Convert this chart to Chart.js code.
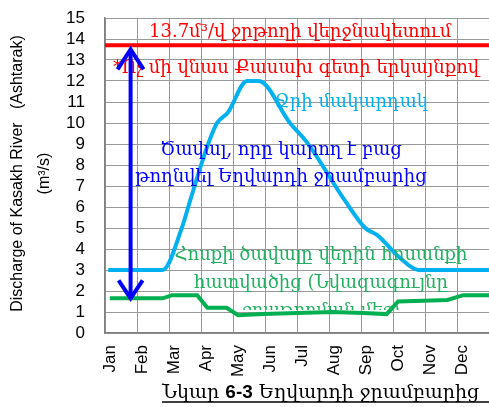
<!DOCTYPE html>
<html>
<head>
<meta charset="utf-8">
<script src="https://cdn.jsdelivr.net/npm/chart.js@4/dist/chart.umd.min.js"></script>
<style>
  html, body { margin: 0; padding: 0; background: #fff; }
  canvas { display: block; }
</style>
</head>
<body>
<canvas id="myChart" width="489" height="407"></canvas>
<script>
const months = ['Jan', 'Feb', 'Mar', 'Apr', 'May', 'Jun', 'Jul', 'Aug', 'Sep', 'Oct', 'Nov', 'Dec'];

// water level curve (x in months from Jan)
const levelX = [0.1, 1.8, 2.4, 2.66, 3.2, 3.5, 3.84, 4.44, 4.8, 5.78, 6.3, 7.5, 8.13, 8.5, 9.22, 9.8, 12];
const levelY = [3, 3, 5, 6.3, 8.9, 10, 10.5, 12, 12, 10, 9.1, 6.3, 5, 4.67, 3.57, 3, 3];

// upstream flow (minimum release)
const flowX = [0.15, 1.8, 2.1, 2.88, 3.2, 3.8, 4.16, 4.94, 7.1, 8.06, 8.8, 9.16, 10.7, 11.2, 12];
const flowY = [1.65, 1.65, 1.8, 1.8, 1.2, 1.2, 0.85, 0.9, 1.0, 0.95, 0.9, 1.5, 1.57, 1.8, 1.8];

const limitValue = 13.7;
const arrowX = 0.8;
const arrowFrom = 1.55;
const arrowTo = 13.7;

const armFont = '"DejaVu Serif", "DejaVu Sans", serif';

const toPoints = (xs, ys) => xs.map((x, i) => ({ x: x, y: ys[i] }));

// w = width the line takes in the picture, the font is shrunk to it
const notes = [
  { text: '13.7մ³/վ ջրթողի վերջնակետում', x: 6.1, y: 14.3, color: '#ff0000', size: 20, w: 303, align: 'center' },
  { text: '*Ոչ մի վնաս Քասախ գետի երկայնքով', x: 0.25, y: 12.6, color: '#ff0000', size: 20, w: 371, align: 'left' },
  { text: 'Ջրի մակարդակ', x: 7.7, y: 11.0, color: '#00b0f0', size: 20, w: 155, align: 'center' },
  { text: 'Ծավալ, որը կարող է բաց', x: 5.5, y: 8.7, color: '#0000ff', size: 21, w: 247, align: 'center' },
  { text: 'թողնվել Եղվարդի ջրամբարից', x: 5.5, y: 7.4, color: '#0000ff', size: 21, w: 295, align: 'center' },
  { text: 'Հոսքի ծավալը վերին հոսանքի', x: 6.75, y: 3.7, color: '#22b060', size: 20, w: 298, align: 'center' },
  { text: 'հատվածից (Նվազագույնը', x: 6.75, y: 2.38, color: '#22b060', size: 20, w: 257, align: 'center' },
  { text: 'ջրաթողման մեջ)', x: 6.75, y: 1.05, color: '#22b060', size: 20, w: 160, align: 'center', clipY: 310 }
];

const extras = {
  id: 'extras',
  afterDatasetsDraw(chart) {
    const ctx = chart.ctx;
    const xs = chart.scales.x, ys = chart.scales.y;
    ctx.save();
    ctx.textBaseline = 'middle';
    notes.forEach(n => {
      ctx.save();
      if (n.clipY) {
        ctx.beginPath();
        ctx.rect(0, 0, chart.width, n.clipY);
        ctx.clip();
      }
      let size = n.size;
      ctx.font = size + 'px ' + armFont;
      while (ctx.measureText(n.text).width > n.w && size > 8) {
        size -= 0.5;
        ctx.font = size + 'px ' + armFont;
      }
      ctx.fillStyle = n.color;
      ctx.textAlign = n.align;
      ctx.fillText(n.text, xs.getPixelForValue(n.x), ys.getPixelForValue(n.y));
      ctx.restore();
    });

    // double arrow
    const ax = xs.getPixelForValue(arrowX);
    const top = ys.getPixelForValue(arrowTo) + 2;
    const bot = ys.getPixelForValue(arrowFrom);
    ctx.strokeStyle = '#0000ff';
    ctx.lineWidth = 4;
    ctx.lineCap = 'butt';
    ctx.lineJoin = 'miter';
    ctx.beginPath();
    ctx.moveTo(ax, top + 2);
    ctx.lineTo(ax, bot - 2);
    ctx.stroke();
    ctx.beginPath();
    ctx.moveTo(ax - 13, top + 22);
    ctx.lineTo(ax, top + 2);
    ctx.lineTo(ax + 13, top + 22);
    ctx.stroke();
    ctx.beginPath();
    ctx.moveTo(ax - 12, bot - 20);
    ctx.lineTo(ax, bot - 2);
    ctx.lineTo(ax + 12, bot - 20);
    ctx.stroke();
    ctx.restore();
  },
  afterDraw(chart) {
    const ctx = chart.ctx;
    const area = chart.chartArea;
    ctx.save();
    // y axis title
    ctx.fillStyle = '#000';
    ctx.font = '16px "Liberation Sans Narrow", "Liberation Sans", Arial, sans-serif';
    ctx.textAlign = 'center';
    ctx.textBaseline = 'middle';
    const cy = (area.top + area.bottom) / 2;
    ctx.translate(18, cy - 2);
    ctx.rotate(-Math.PI / 2);
    ctx.fillText('Discharge of Kasakh River   (Ashtarak)', 0, 0);
    ctx.fillText('(m³/s)', 0, 27);
    ctx.restore();

    // caption
    ctx.save();
    ctx.fillStyle = '#000';
    ctx.textBaseline = 'alphabetic';
    ctx.textAlign = 'left';
    let x = 162;
    const base = 398;
    const parts = [
      ['Նկար ', '19px ' + armFont],
      ['6-3', 'bold 19px "Liberation Sans", Arial, sans-serif'],
      [' Եղվարդի ջրամբարից', '19px ' + armFont]
    ];
    parts.forEach(p => {
      ctx.font = p[1];
      ctx.fillText(p[0], x, base);
      x += ctx.measureText(p[0]).width;
    });
    ctx.strokeStyle = '#000';
    ctx.lineWidth = 1.5;
    ctx.beginPath();
    ctx.moveTo(162, base + 4);
    ctx.lineTo(489, base + 4);
    ctx.stroke();
    ctx.restore();
  }
};

const config = {
  type: 'line',
  data: {
    datasets: [
      { data: toPoints(levelX, levelY), borderColor: '#00b0f0', borderWidth: 4, cubicInterpolationMode: 'monotone', pointRadius: 0 },
      { data: toPoints(flowX, flowY), borderColor: '#00b050', borderWidth: 4, tension: 0, pointRadius: 0 },
      { data: [{ x: 0, y: limitValue }, { x: 12, y: limitValue }], borderColor: '#ff0000', borderWidth: 4, pointRadius: 0 }
    ]
  },
  options: {
    responsive: false,
    animation: false,
    layout: { padding: { top: 18, right: 0, left: 0, bottom: 0 } },
    plugins: { legend: { display: false }, tooltip: { enabled: false } },
    scales: {
      x: {
        type: 'linear',
        min: 0,
        max: 12,
        afterFit: s => { s.height = 74; s.paddingLeft = 0; s.paddingRight = 0; },
        ticks: {
          stepSize: 1,
          autoSkip: false,
          minRotation: 90,
          maxRotation: 90,
          padding: 12,
          labelOffset: 5,
          color: '#000',
          font: { size: 17, family: '"Liberation Sans", Arial, sans-serif' },
          callback: v => months[v] || ''
        },
        grid: { color: '#999', lineWidth: 1, drawTicks: false },
        border: { color: '#808080', width: 1.5 }
      },
      y: {
        min: 0,
        max: 15,
        afterFit: s => { s.width = 105; s.paddingTop = 0; s.paddingBottom = 0; },
        ticks: {
          stepSize: 1,
          autoSkip: false,
          padding: 20,
          color: '#000',
          font: { size: 17, family: '"Liberation Sans", Arial, sans-serif' }
        },
        grid: { color: '#999', lineWidth: 1, drawTicks: false },
        border: { color: '#808080', width: 1.5 }
      }
    }
  },
  plugins: [extras]
};

const chart = () => {
  const elem = new Chart(document.getElementById('myChart'), config);
  return elem;
};

chart();
</script>
</body>
</html>
